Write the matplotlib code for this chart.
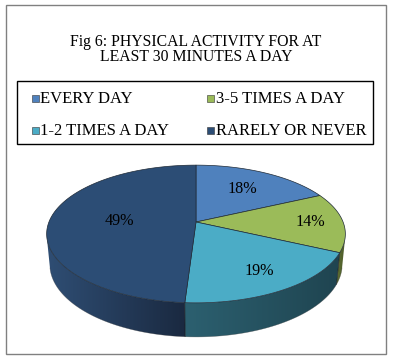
import matplotlib.pyplot as plt
import numpy as np
from matplotlib.colors import LinearSegmentedColormap
from matplotlib.patches import Polygon, Rectangle

# --- Data ---
title_lines = ["Fig 6: PHYSICAL ACTIVITY FOR AT", "LEAST 30 MINUTES A DAY"]
categories = ["EVERY DAY", "3-5 TIMES A DAY", "1-2 TIMES A DAY", "RARELY OR NEVER"]
shares = [18, 14, 19, 49]

# --- Style ---
top_colors = ["#4F81BD", "#9BBB59", "#4BACC6", "#2C4D75"]
side_light = ["#35577F", "#5E7035", "#2C6070", "#2F4E74"]
side_dark = ["#263F5C", "#4A5828", "#1F4450", "#1A2940"]
label_radius = [0.65, 0.78, 0.75, 0.52]
FONT = "Liberation Serif"

# perspective camera for the 3D pie (pixel space)
CX, CY = 196, 222
F, D, TILT = 753.0, 5.12, np.radians(27)
DEPTH = 0.233


def project(theta, r=1.0, w=0.0):
    """theta measured clockwise from 12 o'clock; w is height (negative = down)."""
    u = r * np.sin(theta)
    v = r * np.cos(theta)
    z = D + v * np.cos(TILT) - w * np.sin(TILT)
    x = CX + F * u / z
    y = CY - F * (v * np.sin(TILT) + w * np.cos(TILT)) / z
    return x, y


fig = plt.figure(figsize=(3.93, 3.58), dpi=100)
ax = fig.add_axes([0, 0, 1, 1])
ax.set_xlim(0, 393)
ax.set_ylim(358, 0)
ax.axis("off")

# outer frame
ax.add_patch(Rectangle((6, 5), 380, 349, fill=False, ec="#808080", lw=1.0))

# title
ax.text(196, 46, title_lines[0], ha="center", va="baseline", family=FONT, fontsize=11.3)
ax.text(196, 61, title_lines[1], ha="center", va="baseline", family=FONT, fontsize=11.3)

# legend
ax.add_patch(Rectangle((17, 81), 356, 63, fill=False, ec="black", lw=1.0))
mark_x = [32, 207]
text_x = [40.5, 215.5]
row_base = [103, 135]
for i, (cat, col) in enumerate(zip(categories, top_colors)):
    c, r = i % 2, i // 2
    ax.add_patch(Rectangle((mark_x[c], row_base[r] - 8), 6.5, 6.5,
                           fc=col, ec="#333333", lw=0.4))
    ax.text(text_x[c], row_base[r], cat, ha="left", va="baseline",
            family=FONT, fontsize=12)

# slice angles
fracs = np.array(shares, dtype=float) / sum(shares)
bounds = np.concatenate([[0], np.cumsum(fracs)]) * 2 * np.pi

# visible wall range (normal facing camera)
vis_lo = np.arccos(-1.0 / (D * np.cos(TILT)))
vis_hi = 2 * np.pi - vis_lo

# side walls with horizontal gradient (light on the left, dark on the right)
for i in range(len(shares)):
    a = max(bounds[i], vis_lo)
    b = min(bounds[i + 1], vis_hi)
    if b <= a:
        continue
    ths = np.linspace(a, b, 150)
    tx, ty = project(ths)
    bx, by = project(ths[::-1], w=-DEPTH)
    pts = np.column_stack([np.concatenate([tx, bx]), np.concatenate([ty, by])])
    wall = Polygon(pts, closed=True, fc="none", ec="none")
    ax.add_patch(wall)
    cmap = LinearSegmentedColormap.from_list("w", [side_light[i], side_dark[i]])
    x0, x1 = pts[:, 0].min(), pts[:, 0].max()
    y0, y1 = pts[:, 1].min(), pts[:, 1].max()
    grad = np.linspace(0, 1, 256).reshape(1, -1)
    im = ax.imshow(grad, cmap=cmap, extent=(x0 - 1, x1 + 1, y1 + 1, y0 - 1),
                   aspect="auto", interpolation="bilinear", zorder=1)
    im.set_clip_path(wall)
    # slice boundary edges on the wall
    for th in (a, b):
        if np.isclose(th, bounds[i]) or np.isclose(th, bounds[i + 1]):
            xa, ya = project(th)
            xb, yb = project(th, w=-DEPTH)
            ax.plot([xa, xb], [ya, yb], color="#1a1a1a", lw=0.4, alpha=0.6, zorder=2)

# wall bottom outline
ths = np.linspace(vis_lo, vis_hi, 300)
bx, by = project(ths, w=-DEPTH)
ax.plot(bx, by, color="#404040", lw=0.4, alpha=0.5, zorder=2)

ax.set_xlim(0, 393)
ax.set_ylim(358, 0)

# top faces
for i in range(len(shares)):
    ths = np.linspace(bounds[i], bounds[i + 1], 150)
    px, py = project(ths)
    pts = [(CX, CY)] + list(zip(px, py))
    ax.add_patch(Polygon(pts, closed=True, fc=top_colors[i], ec="#1f2a36",
                         lw=0.5, joinstyle="round", zorder=3))

# percent labels
for i, v in enumerate(shares):
    mid = 0.5 * (bounds[i] + bounds[i + 1])
    lx, ly = project(mid, r=label_radius[i])
    ax.text(lx, ly, f"{v}%", ha="center", va="center", family=FONT,
            fontsize=11.6, zorder=4)

fig.savefig("out.png", dpi=100, facecolor="white")
